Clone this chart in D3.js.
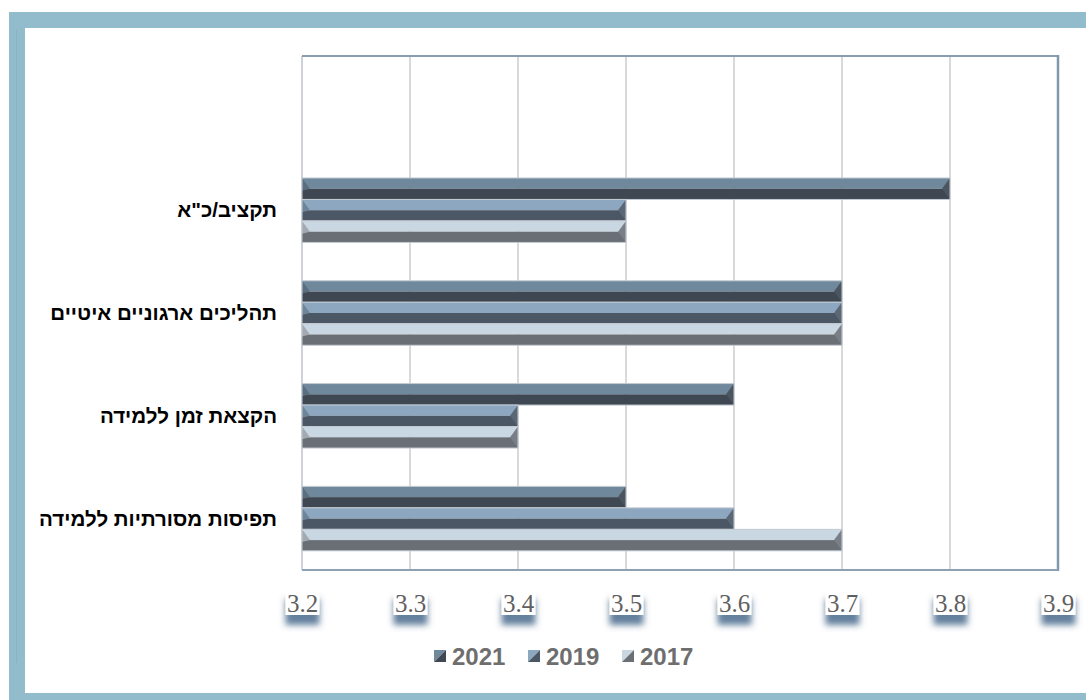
<!DOCTYPE html>
<html>
<head>
<meta charset="utf-8">
<script src="https://cdn.jsdelivr.net/npm/d3@7/dist/d3.min.js"></script>
<style>
  html, body { margin: 0; padding: 0; background: #ffffff; }
  svg { display: block; }
</style>
</head>
<body>
<svg id="chart" width="1086" height="700"></svg>
<script>
// Categories, top to bottom (first slot is an empty row)
const categories = ["", "תקציב/כ\"א", "תהליכים ארגוניים איטיים", "הקצאת זמן ללמידה", "תפיסות מסורתיות ללמידה"];
const seriesNames = ["2021", "2019", "2017"];
const values2021 = [null, 3.8, 3.7, 3.6, 3.5];
const values2019 = [null, 3.5, 3.7, 3.4, 3.6];
const values2017 = [null, 3.5, 3.7, 3.4, 3.7];
const xTicks = [3.2, 3.3, 3.4, 3.5, 3.6, 3.7, 3.8, 3.9];

const seriesValues = [values2021, values2019, values2017];
const palette = [
  { light: "#6f889c", dark: "#3f4852", left: "#5a6e7e", right: "#4a5560" },
  { light: "#8ca7bf", dark: "#4b5765", left: "#6d8499", right: "#5a6775" },
  { light: "#c9d7e3", dark: "#6a6e75", left: "#a2a9b1", right: "#7a7f87" }
];

const svg = d3.select("#chart");
const defs = svg.append("defs");

// soft shadow behind the axis labels
const f = defs.append("filter").attr("id", "lblShadow")
  .attr("x", "-60%").attr("y", "-60%").attr("width", "220%").attr("height", "260%");
f.append("feDropShadow").attr("dx", 0).attr("dy", 10).attr("stdDeviation", 3.4)
  .attr("flood-color", "#46698c").attr("flood-opacity", 0.85);

// outer frame
svg.append("rect").attr("x", 9).attr("y", 12).attr("width", 1100).attr("height", 700).attr("fill", "#92bccb");
svg.append("rect").attr("x", 25).attr("y", 28).attr("width", 1100).attr("height", 665).attr("fill", "#ffffff");
svg.append("line").attr("x1", 16.5).attr("x2", 16.5).attr("y1", 30).attr("y2", 663)
  .attr("stroke", "#86b2c2").attr("stroke-width", 1);

const plot = { left: 302, right: 1058, top: 56, bottom: 570 };

const x = d3.scaleLinear().domain([3.2, 3.9]).range([plot.left, plot.right]);
const y = d3.scaleBand().domain(categories).range([plot.top, plot.bottom])
  .paddingInner(0.373).paddingOuter(0.1865);
const ySeries = d3.scaleBand().domain(seriesNames).range([0, y.bandwidth()]);

// vertical gridlines
svg.append("g").selectAll("line").data(xTicks.slice(1, -1)).join("line")
  .attr("x1", d => x(d)).attr("x2", d => x(d))
  .attr("y1", plot.top).attr("y2", plot.bottom)
  .attr("stroke", "#d9d9d9").attr("stroke-width", 2);

// plot area border
svg.append("line").attr("x1", plot.left).attr("x2", plot.left).attr("y1", plot.top).attr("y2", plot.bottom)
  .attr("stroke", "#cfd2d6").attr("stroke-width", 2);
svg.append("line").attr("x1", plot.left).attr("x2", plot.right).attr("y1", plot.top).attr("y2", plot.top)
  .attr("stroke", "#8a9cae").attr("stroke-width", 2);
svg.append("line").attr("x1", plot.right).attr("x2", plot.right).attr("y1", plot.top - 1).attr("y2", plot.bottom + 1)
  .attr("stroke", "#7f98b0").attr("stroke-width", 2.5);
svg.append("line").attr("x1", plot.left).attr("x2", plot.right).attr("y1", plot.bottom).attr("y2", plot.bottom)
  .attr("stroke", "#8ea2b5").attr("stroke-width", 2);

// bevelled bars
const bars = [];
categories.forEach((c, i) => {
  seriesNames.forEach((s, j) => {
    const v = seriesValues[j][i];
    if (v != null) bars.push({ cat: c, series: s, idx: j, value: v });
  });
});

const gBars = svg.append("g");
bars.forEach(b => {
  const x0 = x(3.2), x1 = x(b.value);
  const y0 = y(b.cat) + ySeries(b.series), h = ySeries.bandwidth(), y1 = y0 + h, ym = y0 + h / 2;
  const col = palette[b.idx];
  const w = 8;
  const g = gBars.append("g");
  g.append("rect").attr("x", x0).attr("y", y0).attr("width", x1 - x0).attr("height", h / 2).attr("fill", col.light);
  g.append("rect").attr("x", x0).attr("y", ym).attr("width", x1 - x0).attr("height", h / 2).attr("fill", col.dark);
  g.append("path").attr("d", `M${x0},${y0}L${x0 + w},${ym}L${x0},${ym + 2}Z`).attr("fill", col.left);
  g.append("path").attr("d", `M${x1},${y0}L${x1 - w},${ym}L${x1},${y1}Z`).attr("fill", col.right);
  g.append("rect").attr("x", x0).attr("y", y0).attr("width", x1 - x0).attr("height", h)
    .attr("fill", "none").attr("stroke", "#c3cad2").attr("stroke-width", 1);
});

// category labels
svg.append("g").selectAll("text").data(categories.filter(c => c !== "")).join("text")
  .attr("x", 277).attr("y", d => y(d) + y.bandwidth() / 2)
  .attr("dy", "0.35em").attr("text-anchor", "end")
  .attr("font-family", "'Liberation Sans', 'DejaVu Sans', sans-serif")
  .attr("font-weight", "bold").attr("font-size", 20.5).attr("fill", "#000000")
  .text(d => d);

// x-axis labels with boxed shadow
const xAxis = d3.axisBottom(x).tickValues(xTicks).tickFormat(d3.format(".1f")).tickSize(0);
const gx = svg.append("g").attr("transform", `translate(0,${plot.bottom})`).call(xAxis);
gx.select(".domain").remove();
gx.selectAll(".tick").each(function () {
  const t = d3.select(this);
  t.insert("rect", "text").attr("x", -17).attr("y", 19).attr("width", 34).attr("height", 26)
    .attr("fill", "#ffffff").attr("filter", "url(#lblShadow)");
});
gx.selectAll(".tick text")
  .attr("y", 42).attr("dy", 0)
  .attr("font-family", "'Liberation Serif', 'DejaVu Serif', serif")
  .attr("font-size", 25).attr("fill", "#5f5f5f");

// legend
const legend = svg.append("g").attr("transform", "translate(434,656)");
const legendX = [0, 94, 188];
seriesNames.forEach((s, j) => {
  const g = legend.append("g").attr("transform", `translate(${legendX[j]},0)`);
  const col = palette[j];
  g.append("path").attr("d", "M0,-6L12,-6L0,6Z").attr("fill", col.light);
  g.append("path").attr("d", "M12,-6L12,6L0,6Z").attr("fill", col.dark);
  g.append("text").attr("x", 18).attr("y", 0).attr("dy", "0.36em")
    .attr("font-family", "'Liberation Sans', Arial, sans-serif")
    .attr("font-weight", "bold").attr("font-size", 24).attr("fill", "#6e6e6e")
    .text(s);
});
</script>
</body>
</html>
